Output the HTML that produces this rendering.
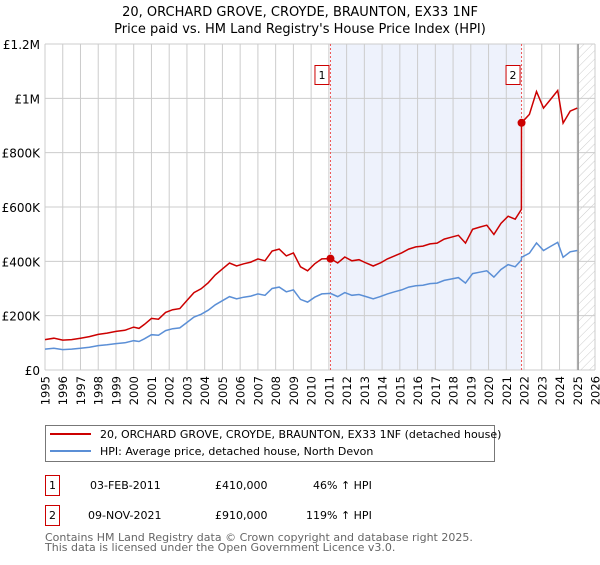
<!DOCTYPE html>
<html><head><meta charset="utf-8"><style>
body{margin:0;background:#fff;font-family:"Liberation Sans","DejaVu Sans",sans-serif;}
svg text{font-family:"DejaVu Sans","Liberation Sans",sans-serif;}
</style></head><body>
<svg id="c" width="600" height="560" xmlns="http://www.w3.org/2000/svg">
<defs><pattern id="hatch" width="6" height="6" patternUnits="userSpaceOnUse" patternTransform="rotate(45)"><line x1="0" y1="0" x2="0" y2="6" stroke="#ccc" stroke-width="1"/></pattern></defs>
<text x="300" y="16" text-anchor="middle" font-size="13" fill="#000">20, ORCHARD GROVE, CROYDE, BRAUNTON, EX33 1NF</text>
<text x="300" y="33" text-anchor="middle" font-size="13" fill="#000">Price paid vs. HM Land Registry's House Price Index (HPI)</text>
<g id="plot"></g>
<g>
<rect x="45.5" y="425.5" width="449" height="36" fill="#fff" stroke="#777"/>
<line x1="50" y1="434" x2="91" y2="434" stroke="#cc0000" stroke-width="2"/>
<text x="100" y="438" font-size="11">20, ORCHARD GROVE, CROYDE, BRAUNTON, EX33 1NF (detached house)</text>
<line x1="50" y1="451" x2="91" y2="451" stroke="#5b8fd6" stroke-width="2"/>
<text x="100" y="455" font-size="11">HPI: Average price, detached house, North Devon</text>
</g>
<g font-size="11">
<rect x="45.5" y="475.5" width="14" height="20" fill="#fff" stroke="#cc0000"/><text x="52.5" y="489" text-anchor="middle">1</text>
<text x="90" y="489">03-FEB-2011</text><text x="215" y="489">£410,000</text><text x="313" y="489">46% ↑ HPI</text>
<rect x="45.5" y="505.5" width="14" height="20" fill="#fff" stroke="#cc0000"/><text x="52.5" y="519" text-anchor="middle">2</text>
<text x="88" y="519">09-NOV-2021</text><text x="215" y="519">£910,000</text><text x="306" y="519">119% ↑ HPI</text>
</g>
<text x="45" y="541" font-size="11" fill="#666">Contains HM Land Registry data © Crown copyright and database right 2025.</text>
<text x="45" y="551" font-size="11" fill="#666">This data is licensed under the Open Government Licence v3.0.</text>
</svg>
<script>
const times=[1995.0,1995.5,1996.0,1996.5,1997.0,1997.5,1998.0,1998.5,1999.0,1999.5,2000.0,2000.3,2000.6,2001.0,2001.4,2001.8,2002.2,2002.6,2003.0,2003.4,2003.8,2004.2,2004.6,2005.0,2005.4,2005.8,2006.2,2006.6,2007.0,2007.4,2007.8,2008.2,2008.6,2009.0,2009.4,2009.8,2010.2,2010.6,2011.09,2011.5,2011.9,2012.3,2012.7,2013.1,2013.5,2013.9,2014.3,2014.7,2015.1,2015.5,2015.9,2016.3,2016.7,2017.1,2017.5,2017.9,2018.3,2018.7,2019.1,2019.5,2019.9,2020.3,2020.7,2021.1,2021.5,2021.85,2021.86,2022.3,2022.7,2023.1,2023.5,2023.9,2024.2,2024.6,2025.0];
const hpiValues=[77,80,75,77,80,84,90,93,97,100,108,105,115,130,128,145,152,155,175,195,205,220,240,255,270,262,268,272,280,275,300,305,288,295,260,250,268,280,282,270,285,275,278,270,262,270,280,288,295,305,310,312,318,320,330,335,340,320,355,360,365,342,370,388,380,405,415,430,468,440,455,470,415,435,440];
const propertyValues=[112,117,110,112,117,123,131,136,142,146,158,153,168,190,187,212,222,226,256,285,299,321,350,372,394,383,391,397,409,402,438,445,420,431,380,365,391,409,410,394,416,402,406,394,383,394,409,420,431,445,453,456,464,467,482,489,496,467,518,526,533,499,540,566,555,591,910,941,1025,964,996,1029,909,953,964];
const yTicks=[0,200,400,600,800,1000,1200];
const yTickLabels=["£0","£200K","£400K","£600K","£800K","£1M","£1.2M"];
const sales=[{t:2011.09,v:410,label:"1"},{t:2021.86,v:910,label:"2"}];
const X0=45,X1=595,Y0=370,Y1=44;
const xs=t=>X0+(t-1995)/(2026-1995)*(X1-X0);
const ys=v=>Y0-v/1200*(Y0-Y1);
const NS="http://www.w3.org/2000/svg";
const g=document.getElementById('plot');
function mk(tag,attrs){const e=document.createElementNS(NS,tag);for(const k in attrs)e.setAttribute(k,attrs[k]);g.appendChild(e);return e;}
let e=mk('rect',{x:xs(sales[0].t),y:Y1,width:xs(sales[1].t)-xs(sales[0].t),height:Y0-Y1,fill:'#eef2fc'});


for(let yr=1995;yr<=2026;yr++){
 const l=mk('line',{x1:xs(yr),x2:xs(yr),y1:Y1,y2:Y0,stroke:'#ccc','stroke-width':1});
 
 
 const t=mk('text',{transform:`translate(${xs(yr)+4.5},${Y0+6}) rotate(-90)`,'text-anchor':'end','font-size':'11.5',fill:'#000'});
 t.textContent=yr;
 
 
}
yTicks.forEach((v,i)=>{
 const l=mk('line',{x1:X0,x2:X1,y1:ys(v),y2:ys(v),stroke:'#ccc','stroke-width':1});
 
 
 const t=mk('text',{x:40,y:ys(v)+5,'text-anchor':'end','font-size':'12',fill:'#000'});
 t.textContent=yTickLabels[i];
 
 
});
e=mk('rect',{x:xs(2025.05),y:Y1,width:X1-xs(2025.05),height:Y0-Y1,fill:'url(#hatch)'});


e=mk('line',{x1:xs(2025.05),x2:xs(2025.05),y1:Y1,y2:Y0,stroke:'#999','stroke-width':1.5});


sales.forEach(s=>{
 const l=mk('line',{x1:xs(s.t),x2:xs(s.t),y1:Y1,y2:Y0,stroke:'#e55','stroke-width':1,'stroke-dasharray':'2,2'});
 
 
});
const pts=(arr)=>arr.map((v,i)=>xs(times[i]).toFixed(1)+','+ys(v).toFixed(1)).join(' ');
e=mk('polyline',{points:pts(hpiValues),fill:'none',stroke:'#5b8fd6','stroke-width':1.5});


e=mk('polyline',{points:pts(propertyValues),fill:'none',stroke:'#cc0000','stroke-width':1.5});


sales.forEach(s=>{
 const c=mk('circle',{cx:xs(s.t),cy:ys(s.v),r:4,fill:'#cc0000'});
 
 
 const r=mk('rect',{x:xs(s.t)-15.5,y:65.5,width:14,height:19,fill:'#fff',stroke:'#cc0000'});
 
 
 const t=mk('text',{x:xs(s.t)-8.5,y:79,'text-anchor':'middle','font-size':'11'});
 t.textContent=s.label;
 
 
});
</script>
</body></html>
